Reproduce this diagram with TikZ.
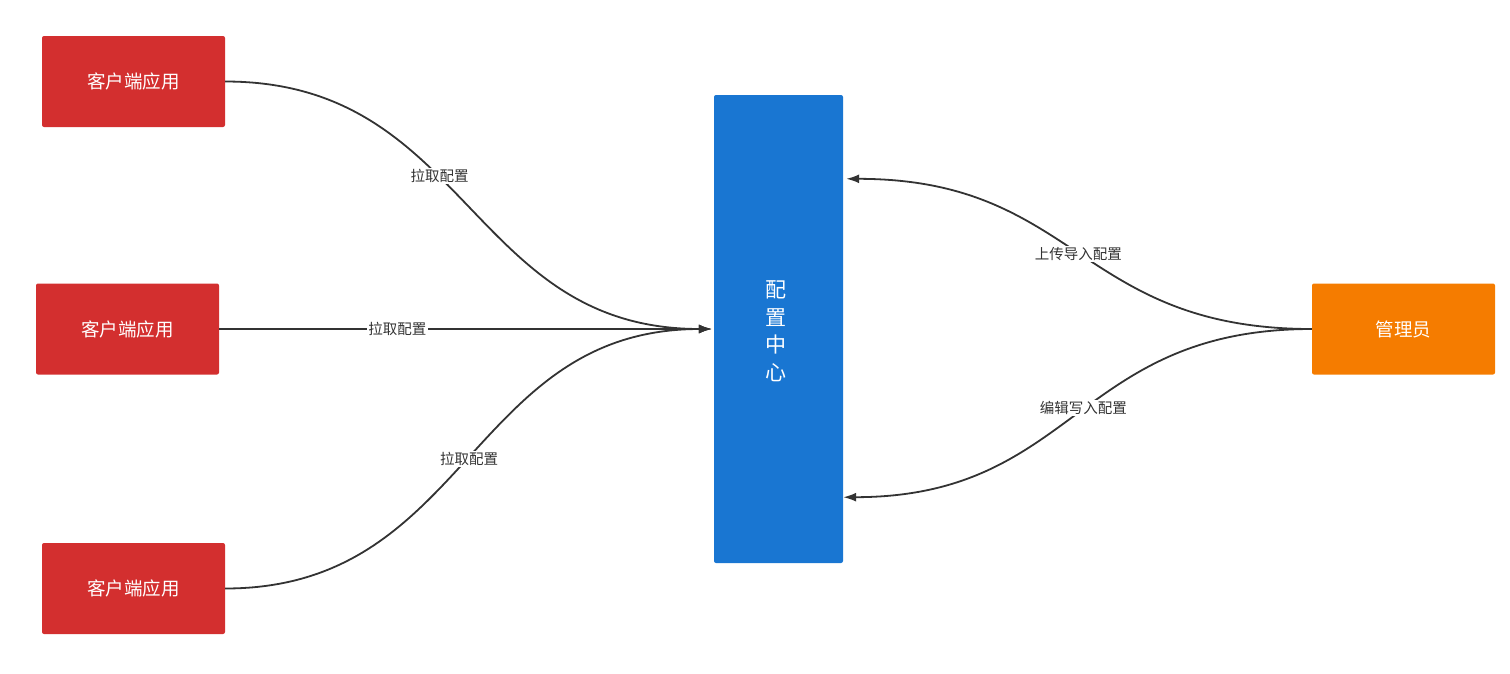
\documentclass[tikz,border=0pt]{standalone}
\usepackage{fontspec}
\setmainfont{Noto Sans CJK SC}
\usetikzlibrary{arrows.meta,calc}
\definecolor{cred}{HTML}{D32F2F}
\definecolor{cblue}{HTML}{1976D2}
\definecolor{corange}{HTML}{F57C00}
\definecolor{cline}{HTML}{333333}
\tikzset{
  box/.style={draw=none,rounded corners=2pt,minimum width=183pt,minimum height=91pt,inner sep=0pt,text=white,font=\fontsize{18.5}{22}\selectfont},
  conn/.style={draw=cline,line width=1.8pt,-{Latex[length=13pt,width=9pt]}},
  lbl/.style={fill=white,text=cline,inner sep=1.5pt,font=\fontsize{14.5}{17}\selectfont}
}
\begin{document}
\begin{tikzpicture}[x=1pt,y=-1pt]
\useasboundingbox (0,0) rectangle (1510,673);
\node[box,fill=cred] (c1) at (133.5,81.5) {客户端应用};
\node[box,fill=cred] (c2) at (127.5,329) {客户端应用};
\node[box,fill=cred] (c3) at (133.5,588.5) {客户端应用};
\node[box,fill=corange] (adm) at (1403.5,329) {管理员};
\node[draw=none,fill=cblue,rounded corners=2pt,minimum width=129pt,minimum height=468pt,inner sep=0pt] (cfg) at (778.5,329) {};
\node[text=white,align=center,inner sep=0pt,font=\fontsize{21}{27.5}\selectfont] (cfgtxt) at ($(cfg.center)+(-3,2)$) {配\\置\\中\\心};
\coordinate (cfgTop) at ($(cfg.north east)+(3,84)$);
\coordinate (cfgBot) at ($(cfg.south east)+(0,-66)$);
\draw[conn,shorten >=2pt] (c1.east) .. controls (469,81.5) and (469,329) .. (cfg.west) node[lbl,pos=0.42] {拉取配置};
\draw[conn,shorten >=2pt] (c2.east) -- (cfg.west) node[lbl,pos=0.36] {拉取配置};
\draw[conn,shorten >=2pt] (c3.east) .. controls (469,588.5) and (469,329) .. (cfg.west) node[lbl,pos=0.5] {拉取配置};
\draw[conn] (adm.west) .. controls (1078,329) and (1078,179) .. (cfgTop) node[lbl,pos=0.5] {上传导入配置};
\draw[conn] (adm.west) .. controls (1076,329) and (1076,497) .. (cfgBot) node[lbl,pos=0.48] {编辑写入配置};
\end{tikzpicture}
\end{document}
